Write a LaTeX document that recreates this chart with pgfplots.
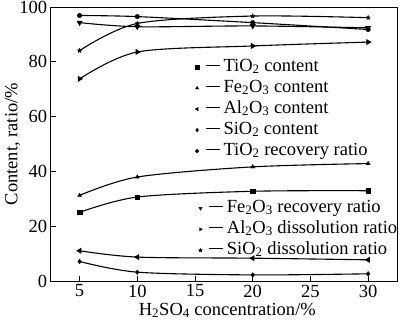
\documentclass[border=0pt]{standalone}
\usepackage{fontspec}
\setmainfont{Liberation Serif}
\usepackage{pgfplots}
\pgfplotsset{compat=1.18}
\pgfdeclareplotmark{fstar}{%
  \pgfpathmoveto{\pgfpointpolar{90}{\pgfplotmarksize}}%
  \pgfpathlineto{\pgfpointpolar{126}{0.42\pgfplotmarksize}}%
  \pgfpathlineto{\pgfpointpolar{162}{\pgfplotmarksize}}%
  \pgfpathlineto{\pgfpointpolar{198}{0.42\pgfplotmarksize}}%
  \pgfpathlineto{\pgfpointpolar{234}{\pgfplotmarksize}}%
  \pgfpathlineto{\pgfpointpolar{270}{0.42\pgfplotmarksize}}%
  \pgfpathlineto{\pgfpointpolar{306}{\pgfplotmarksize}}%
  \pgfpathlineto{\pgfpointpolar{342}{0.42\pgfplotmarksize}}%
  \pgfpathlineto{\pgfpointpolar{18}{\pgfplotmarksize}}%
  \pgfpathlineto{\pgfpointpolar{54}{0.42\pgfplotmarksize}}%
  \pgfpathclose\pgfusepathqfillstroke}
\newcommand{\dash}{\hspace{5pt}\rule[0.3em]{14pt}{1pt}\hspace{4pt}}
\pgfplotsset{
  common/.style={
    width=346pt, height=274pt, scale only axis,
    xmin=2.5, xmax=32.5, ymin=0, ymax=100,
    font=\fontsize{18.5}{18.5}\selectfont,
    /pgf/number format/assume math mode=true,
  },
  myleg/.style={
    legend cell align=left,
    legend image code/.code={%
      \draw[##1,mark size=1.9pt,sharp plot,line width=0.4pt] plot coordinates {(0pt,0pt)};},
    legend style={draw=none, fill=none, inner sep=0pt, row sep=0pt,
      column sep=0pt,
      font=\fontsize{18.5}{18.5}\selectfont,
      nodes={inner sep=1.5pt, text height=13pt, text depth=5pt}},
  },
}
\begin{document}
\begin{tikzpicture}
\begin{axis}[common, myleg,
  axis line style={line width=0.9pt},
  xtick={5,10,15,20,25,30}, ytick={0,20,40,60,80,100},
  xtick pos=bottom, ytick pos=left, tick align=inside,
  major tick length=5pt, tick style={line width=0.9pt, black},
  xlabel={H\textsubscript{2}SO\textsubscript{4} concentration/\%},
  ylabel={Content, ratio/\%},
  xlabel style={at={(axis description cs:0.51,0)}, anchor=center, yshift=-29pt},
  ylabel style={at={(axis description cs:-0.11,0.5)}, anchor=center},
  every axis plot/.append style={black, solid, line width=1.1pt, smooth, mark size=2.4pt, mark options={solid, fill=black, line width=0.3pt}},
  legend style={at={(axis cs:15.0,82)}, anchor=north west},
]
% TiO2 content
\addplot[mark=square*, mark size=2.1pt] coordinates {(5,25.1) (10,30.7) (20,32.8) (30,33.0)};
\addlegendentry{\dash TiO\textsubscript{2} content}
% Fe2O3 content
\addplot[mark=triangle*] coordinates {(5,31.3) (10,38.0) (20,41.7) (30,42.9)};
\addlegendentry{\dash Fe\textsubscript{2}O\textsubscript{3} content}
% Al2O3 content
\addplot[mark=triangle*, mark options={rotate=90}] coordinates {(5,11.1) (10,8.8) (20,8.4) (30,7.8)};
\addlegendentry{\dash Al\textsubscript{2}O\textsubscript{3} content}
% SiO2 content
\addplot[mark=diamond*] coordinates {(5,7.2) (10,3.3) (20,2.3) (30,2.7)};
\addlegendentry{\dash SiO\textsubscript{2} content}
% TiO2 recovery
\addplot[mark=*, mark size=2.3pt] coordinates {(5,96.9) (10,96.5) (20,94.3) (30,91.8)};
\addlegendentry{\dash TiO\textsubscript{2} recovery ratio}
% Fe2O3 recovery
\addplot[mark=triangle*, mark options={rotate=180}, forget plot] coordinates {(5,94.3) (10,92.8) (20,93.1) (30,92.4)};
% Al2O3 dissolution
\addplot[mark=triangle*, mark options={rotate=-90}, forget plot] coordinates {(5,73.8) (10,83.6) (20,85.8) (30,87.2)};
% SiO2 dissolution
\addplot[mark=fstar, forget plot] coordinates {(5,84.1) (10,94.0) (20,96.7) (30,96.1)};
\end{axis}
\begin{axis}[common, myleg, hide axis,
  legend style={at={(axis cs:15.3,30.5)}, anchor=north west},
]
\addlegendimage{black, mark=triangle*, mark options={rotate=180, fill=black}}
\addlegendentry{\dash Fe\textsubscript{2}O\textsubscript{3} recovery ratio}
\addlegendimage{black, mark=triangle*, mark options={rotate=-90, fill=black}}
\addlegendentry{\dash Al\textsubscript{2}O\textsubscript{3} dissolution ratio}
\addlegendimage{black, mark=fstar, mark options={fill=black}}
\addlegendentry{\dash SiO\textsubscript{2} dissolution ratio}
\end{axis}
\pgfresetboundingbox
\path (current axis.south west) ++(-50.7pt,-43pt) coordinate (bbA);
\path (current axis.north east) ++(3pt,7pt) coordinate (bbB);
\useasboundingbox (bbA) rectangle (bbB);
\end{tikzpicture}
\end{document}
